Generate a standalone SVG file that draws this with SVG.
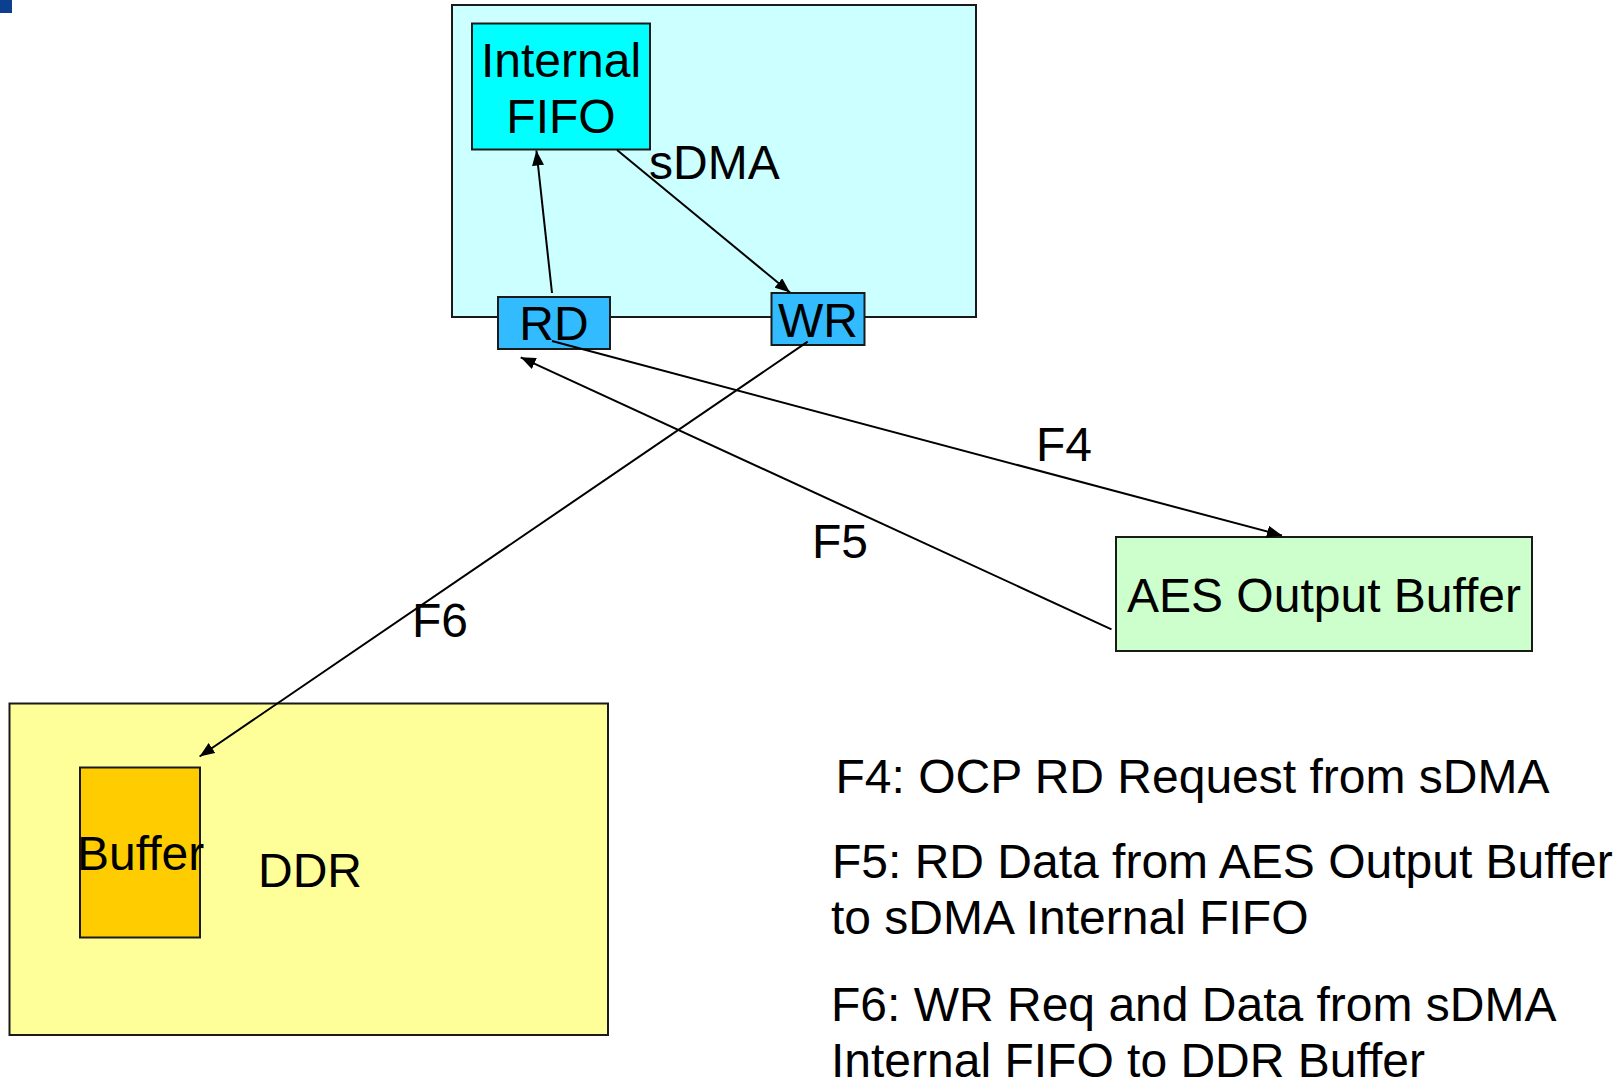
<svg xmlns="http://www.w3.org/2000/svg" width="1624" height="1081" viewBox="0 0 1624 1081">
<defs>
<style>
.box{stroke:#1a1a1a;stroke-width:2}
.t{font-family:"Liberation Sans",Arial,sans-serif;font-size:48px;fill:#000}
.c{text-anchor:middle}
.ln{stroke:#000;stroke-width:2;fill:none;marker-end:url(#ah)}
</style>
<marker id="ah" markerUnits="userSpaceOnUse" markerWidth="16" markerHeight="12" refX="15" refY="6" orient="auto">
<path d="M0,0 L15,6 L0,12 z" fill="#000"/>
</marker>
</defs>
<rect x="0" y="0" width="12" height="13" fill="#0D3F8F"/>
<g id="sdma">
<rect class="box" x="452" y="5" width="524" height="312" fill="#CCFFFF"/>
<text class="t" x="649" y="179">sDMA</text>
</g>
<g id="fifo">
<rect class="box" x="472" y="23.5" width="178" height="126" fill="#00FFFF"/>
<text class="t c" x="561" y="77">Internal</text>
<text class="t c" x="561" y="132.5">FIFO</text>
</g>
<g id="rd">
<rect class="box" x="498" y="297" width="112" height="52" fill="#33BBFF"/>
<text class="t c" x="554" y="340">RD</text>
</g>
<g id="wr">
<rect class="box" x="771.5" y="293" width="93" height="52" fill="#33BBFF"/>
<text class="t c" x="818" y="337">WR</text>
</g>
<g id="aes">
<rect class="box" x="1116" y="537" width="416" height="114" fill="#CCFFCC"/>
<text class="t c" x="1324" y="611.5">AES Output Buffer</text>
</g>
<g id="ddr">
<rect class="box" x="9.5" y="703.5" width="598.5" height="331.5" fill="#FFFF99"/>
<text class="t" x="258" y="887">DDR</text>
</g>
<g id="buffer">
<rect class="box" x="80" y="767.5" width="120" height="170" fill="#FFCC00"/>
<text class="t" x="77" y="870">Buffer</text>
</g>
<g id="connectors">
<line class="ln" x1="552" y1="293" x2="536.4" y2="150.5"/>
<line class="ln" x1="617" y1="150" x2="790" y2="292.5"/>
<line class="ln" x1="552" y1="341" x2="1282" y2="535.5"/>
<line class="ln" x1="1111.5" y1="629.3" x2="520.7" y2="357.3"/>
<line class="ln" x1="807.7" y1="341.7" x2="199.6" y2="756.5"/>
</g>
<g id="labels">
<text class="t" x="1036" y="461">F4</text>
<text class="t" x="812" y="557.5">F5</text>
<text class="t" x="412" y="637">F6</text>
<text class="t" x="835.5" y="792.5">F4: OCP RD Request from sDMA</text>
<text class="t" x="832" y="877.7">F5: RD Data from AES Output Buffer</text>
<text class="t" x="831" y="934.3">to sDMA Internal FIFO</text>
<text class="t" x="831" y="1021">F6: WR Req and Data from sDMA</text>
<text class="t" x="831" y="1077">Internal FIFO to DDR Buffer</text>
</g>
</svg>
